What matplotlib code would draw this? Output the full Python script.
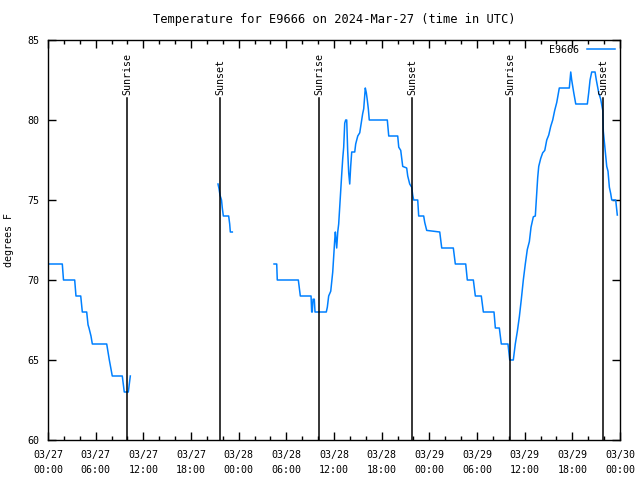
import matplotlib
matplotlib.use('Agg')
import matplotlib.pyplot as plt
import numpy as np

plt.rcParams['font.family'] = 'DejaVu Sans Mono'
plt.rcParams['font.size'] = 7.2

# hours since 03/27 00:00 UTC, temperature in F (nan = gap)
hours = [0.00, 1.80, 1.95, 3.36, 3.52, 4.12, 4.32, 4.87, 5.04, 5.16, 5.41, 5.58,
         7.39, 7.55, 7.72, 8.09, 9.35, 9.60, 10.11, 10.36,
         np.nan,
         21.40, 21.53, 21.65, 21.84, 21.94, 22.07, 22.74, 22.87, 22.95, 23.20,
         np.nan,
         28.45, 28.79, 28.86, 31.51, 31.76, 33.11, 33.19, 33.27, 33.36, 33.52, 33.61,
         35.03, 35.16, 35.33, 35.59, 35.84, 35.96, 36.09, 36.17, 36.34, 36.47, 36.59,
         36.72, 36.84, 36.97, 37.10, 37.22, 37.35, 37.47, 37.60, 37.72, 37.85, 37.98,
         38.10, 38.23, 38.61, 38.73, 38.99, 39.24, 39.36, 39.61, 39.74, 39.87, 39.94,
         40.07, 40.19, 40.32, 40.44, 42.71, 42.89, 44.02, 44.15, 44.40, 44.52, 44.65,
         45.15, 45.28, 45.53, 45.78, 45.91, 46.03, 46.54, 46.66, 47.29, 47.42, 47.67,
         49.31, 49.56, 51.02, 51.27, 52.58, 52.78, 53.54, 53.79, 54.54, 54.80, 56.14,
         56.31, 56.81, 57.06, 57.90, 58.12, 58.57, 58.82, 59.08, 59.33, 59.58, 59.83,
         60.08, 60.33, 60.59, 60.80, 61.09, 61.34, 61.52, 61.64, 61.77, 62.02, 62.27,
         62.53, 62.78, 63.03, 63.28, 63.53, 63.78, 64.04, 64.29, 64.36, 65.62, 65.80,
         65.92, 66.18, 66.43, 67.89, 68.06, 68.23, 68.44, 68.86, 69.02, 69.32, 69.57,
         69.83, 69.90, 70.08, 70.20, 70.33, 70.49, 70.66, 70.83, 70.96, 71.46, 71.54,
         71.66]
temps = [71, 71, 70, 70, 69, 69, 68, 68, 67.2, 67, 66.5, 66,
         66, 65.5, 65, 64, 64, 63, 63, 64,
         np.nan,
         76, 75.7, 75.3, 75, 74.5, 74, 74, 73.5, 73, 73,
         np.nan,
         71, 71, 70, 70, 69, 69, 68, 68, 68.8, 68.8, 68,
         68, 68.3, 69, 69.3, 70.5, 71.5, 72.5, 73, 72, 73, 73.5,
         74.6, 75.6, 76.6, 77.6, 78.3, 79.8, 80, 80, 78.1, 76.7, 76,
         77.1, 78, 78, 78.5, 79, 79.2, 79.6, 80.4, 80.7, 81.5, 82,
         81.7, 81.25, 80.7, 80, 80, 79, 79, 78.3, 78.1, 77.6, 77.1,
         77, 76.5, 76, 75.8, 75.3, 75, 75, 74, 74, 73.6, 73.1,
         73, 72, 72, 71, 71, 70, 70, 69, 69, 68, 68,
         67, 67, 66, 66, 65, 65, 66, 66.8, 67.7, 68.8, 70,
         71, 71.9, 72.4, 73.3, 73.95, 74, 75.5, 76.4, 77.1, 77.6, 77.95,
         78.1, 78.75, 79.06, 79.6, 80, 80.6, 81.1, 81.8, 82, 82, 83,
         82.5, 81.7, 81, 81, 81.7, 82.5, 83, 83, 82.5, 81.7, 81.3,
         80.6, 79.3, 78.4, 77.8, 77.1, 76.8, 75.8, 75.4, 75, 75, 74.6,
         74.06]

sun_hours = [9.98, 21.69, 34.15, 45.86, 58.19, 69.90]
sun_labels = ['Sunrise', 'Sunset', 'Sunrise', 'Sunset', 'Sunrise', 'Sunset']

tick_hours = list(range(0, 73, 6))
tick_labels = ['03/27\n00:00', '03/27\n06:00', '03/27\n12:00', '03/27\n18:00',
               '03/28\n00:00', '03/28\n06:00', '03/28\n12:00', '03/28\n18:00',
               '03/29\n00:00', '03/29\n06:00', '03/29\n12:00', '03/29\n18:00',
               '03/30\n00:00']

fig = plt.figure(figsize=(6.4, 4.8), dpi=100)
ax = fig.add_axes([48/640, 40/480, 572/640, 400/480])

ax.plot(hours, temps, color='#0080ff', lw=1.1, label='E9666')

for h, lab in zip(sun_hours, sun_labels):
    ax.axvline(h, ymin=0, ymax=(440-98)/400, color='black', lw=1.1)
    ax.text(h, (440-95)/400, lab, rotation=90, ha='center', va='bottom',
            transform=ax.get_xaxis_transform())

ax.set_xlim(0, 72)
ax.set_ylim(60, 85)
ax.set_xticks(tick_hours)
ax.set_xticklabels(tick_labels, linespacing=1.6)
ax.set_xticks(range(0, 73, 2), minor=True)
ax.set_yticks(range(60, 86, 5))
ax.tick_params(which='both', direction='in', top=True, right=True, color='black')
ax.tick_params(which='major', length=6, width=1)
ax.tick_params(which='minor', length=3, width=1)
ax.tick_params(axis='x', pad=7)
ax.tick_params(axis='y', pad=6)
for s in ax.spines.values():
    s.set_linewidth(1)

ax.set_ylabel('degrees F', labelpad=10)
ax.set_title('Temperature for E9666 on 2024-Mar-27 (time in UTC)', pad=12)

leg = ax.legend(loc='upper right', frameon=False, handlelength=2.8,
                handletextpad=0.8, markerfirst=False, borderaxespad=0.1)

fig.savefig('out.png', dpi=100)
